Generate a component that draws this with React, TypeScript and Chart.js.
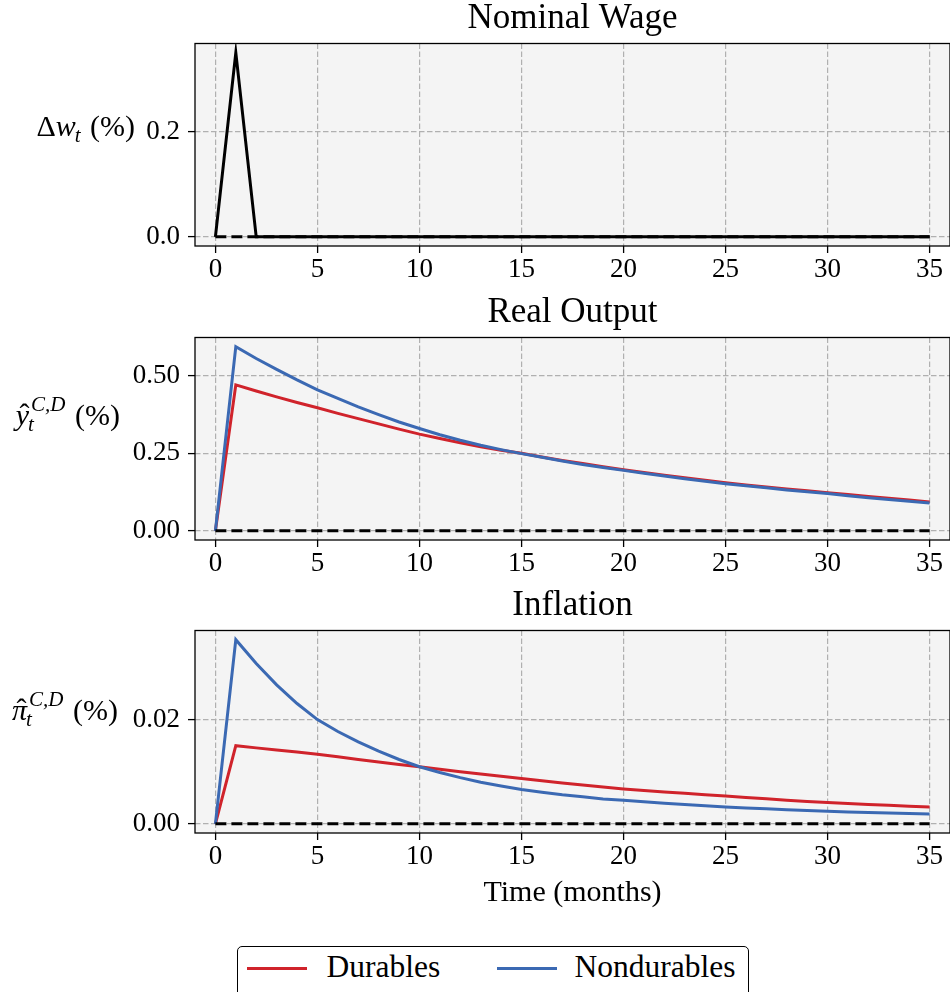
import React, { useEffect, useRef } from "react";
import { Chart, registerables } from "chart.js";

Chart.register(...registerables);

// ---------------- data ----------------
const MONTHS = [0, 1, 2, 3, 4, 5, 6, 7, 8, 9, 10, 11, 12, 13, 14, 15, 16, 17, 18, 19, 20, 21, 22, 23, 24, 25, 26, 27, 28, 29, 30, 31, 32, 33, 34, 35];

const WAGE = [0, 0.35, 0, 0, 0, 0, 0, 0, 0, 0, 0, 0, 0, 0, 0, 0, 0, 0, 0, 0, 0, 0, 0, 0, 0, 0, 0, 0, 0, 0, 0, 0, 0, 0, 0, 0];

const ZERO = [0, 0, 0, 0, 0, 0, 0, 0, 0, 0, 0, 0, 0, 0, 0, 0, 0, 0, 0, 0, 0, 0, 0, 0, 0, 0, 0, 0, 0, 0, 0, 0, 0, 0, 0, 0];

const OUTPUT_DURABLES = [0, 0.471, 0.451, 0.432, 0.414, 0.397, 0.379, 0.362, 0.345, 0.328, 0.312, 0.298, 0.284, 0.271, 0.26, 0.25, 0.238, 0.227, 0.217, 0.207, 0.197, 0.188, 0.179, 0.171, 0.163, 0.155, 0.148, 0.141, 0.135, 0.129, 0.123, 0.117, 0.111, 0.105, 0.099, 0.093];

const OUTPUT_NONDURABLES = [0, 0.594, 0.556, 0.521, 0.487, 0.455, 0.427, 0.4, 0.375, 0.351, 0.33, 0.31, 0.292, 0.276, 0.262, 0.249, 0.237, 0.225, 0.214, 0.204, 0.195, 0.186, 0.177, 0.168, 0.16, 0.152, 0.145, 0.139, 0.132, 0.126, 0.12, 0.113, 0.107, 0.101, 0.095, 0.09];

const INFL_DURABLES = [0, 0.01506, 0.01464, 0.01423, 0.01383, 0.01343, 0.01291, 0.0124, 0.01192, 0.01145, 0.011, 0.01051, 0.01004, 0.00959, 0.00915, 0.00873, 0.00829, 0.00787, 0.00747, 0.00709, 0.00672, 0.00643, 0.00614, 0.00587, 0.00561, 0.00537, 0.00508, 0.00481, 0.00456, 0.00432, 0.0041, 0.00391, 0.00373, 0.00356, 0.0034, 0.00325];

const INFL_NONDURABLES = [0, 0.0355, 0.0309, 0.0268, 0.0232, 0.0201, 0.0178, 0.0158, 0.014, 0.0124, 0.011, 0.0099, 0.0089, 0.008, 0.0073, 0.0066, 0.0061, 0.0056, 0.0052, 0.0048, 0.00454, 0.00424, 0.00397, 0.00371, 0.00347, 0.00325, 0.00306, 0.00289, 0.00271, 0.00255, 0.0024, 0.00229, 0.00218, 0.00208, 0.00199, 0.0019];

const X_TICKS = [0, 5, 10, 15, 20, 25, 30, 35];
const X_TICK_LABELS = ["0", "5", "10", "15", "20", "25", "30", "35"];

const WAGE_Y_TICKS = [0, 0.2];
const WAGE_Y_TICK_LABELS = ["0.0", "0.2"];
const OUTPUT_Y_TICKS = [0, 0.25, 0.5];
const OUTPUT_Y_TICK_LABELS = ["0.00", "0.25", "0.50"];
const INFL_Y_TICKS = [0, 0.02];
const INFL_Y_TICK_LABELS = ["0.00", "0.02"];

const SERIES_NAMES = ["Durables", "Nondurables"];

// ---------------- style ----------------
const FAM = "'Liberation Serif', 'Times New Roman', serif";
const RED = "#d0232b";
const BLUE = "#3b69b3";
const LINE_W = 3;

type LabelPart = { text: string; italic?: boolean; hat?: boolean; sub?: string; sup?: string };

type PanelCfg = {
  top: number;
  height: number;
  title: string;
  series: { label: string; data: number[]; color: string; width: number; dash?: number[]; order: number }[];
  yMin: number;
  yMax: number;
  yTicks: number[];
  yTickLabels: string[];
  yLabel: LabelPart[];
  yLabelRight: number;
  yLabelBaseline: number;
  xAxisHeight: number;
  xTitle?: string;
};

function drawYLabel(ctx: CanvasRenderingContext2D, parts: LabelPart[], right: number, baseline: number) {
  const F = 30;
  const S = 21;
  const reg = `${F}px ${FAM}`;
  const ita = `italic ${F}px ${FAM}`;
  const sIta = `italic ${S}px ${FAM}`;
  const widths = parts.map((p) => {
    ctx.font = p.italic ? ita : reg;
    const w = ctx.measureText(p.text).width;
    ctx.font = sIta;
    const subW = p.sub ? ctx.measureText(p.sub).width : 0;
    const supW = p.sup ? ctx.measureText(p.sup).width + 3 : 0;
    const ws = Math.max(subW, supW);
    return { w, ws: ws ? ws + 1 : 0 };
  });
  const total = widths.reduce((a, b) => a + b.w + b.ws, 0);
  let x = right - total;
  ctx.save();
  ctx.fillStyle = "#000";
  ctx.textBaseline = "alphabetic";
  ctx.textAlign = "left";
  parts.forEach((p, i) => {
    ctx.font = p.italic ? ita : reg;
    ctx.fillText(p.text, x, baseline);
    if (p.hat) {
      ctx.font = reg;
      const hw = ctx.measureText("\u02C6").width;
      ctx.fillText("\u02C6", x + widths[i].w / 2 - hw / 2 + 2, baseline - 1);
    }
    ctx.font = sIta;
    if (p.sub) ctx.fillText(p.sub, x + widths[i].w - 1, baseline + 6);
    if (p.sup) ctx.fillText(p.sup, x + widths[i].w + 2, baseline - 14);
    x += widths[i].w + widths[i].ws;
  });
  ctx.restore();
}

const PANELS: PanelCfg[] = [
  {
    top: 0,
    height: 294,
    title: "Nominal Wage",
    series: [
      { label: "zero", data: ZERO, color: "#000", width: LINE_W, dash: [11, 5], order: 0 },
      { label: "Nominal Wage", data: WAGE, color: "#000", width: LINE_W, order: 1 },
    ],
    yMin: -0.0175,
    yMax: 0.3675,
    yTicks: WAGE_Y_TICKS,
    yTickLabels: WAGE_Y_TICK_LABELS,
    yLabel: [{ text: "\u0394" }, { text: "w", italic: true, sub: "t" }, { text: " (%)" }],
    yLabelRight: 135,
    yLabelBaseline: 136,
    xAxisHeight: 48,
  },
  {
    top: 294,
    height: 293,
    title: "Real Output",
    series: [
      { label: "zero", data: ZERO, color: "#000", width: LINE_W, dash: [11, 5], order: 0 },
      { label: SERIES_NAMES[1], data: OUTPUT_NONDURABLES, color: BLUE, width: LINE_W, order: 1 },
      { label: SERIES_NAMES[0], data: OUTPUT_DURABLES, color: RED, width: LINE_W, order: 2 },
    ],
    yMin: -0.0297,
    yMax: 0.6237,
    yTicks: OUTPUT_Y_TICKS,
    yTickLabels: OUTPUT_Y_TICK_LABELS,
    yLabel: [{ text: "y", italic: true, hat: true, sub: "t", sup: "C,D" }, { text: " (%)" }],
    yLabelRight: 120,
    yLabelBaseline: 131,
    xAxisHeight: 47,
  },
  {
    top: 587,
    height: 358,
    title: "Inflation",
    series: [
      { label: "zero", data: ZERO, color: "#000", width: LINE_W, dash: [11, 5], order: 0 },
      { label: SERIES_NAMES[1], data: INFL_NONDURABLES, color: BLUE, width: LINE_W, order: 1 },
      { label: SERIES_NAMES[0], data: INFL_DURABLES, color: RED, width: LINE_W, order: 2 },
    ],
    yMin: -0.001775,
    yMax: 0.037275,
    yTicks: INFL_Y_TICKS,
    yTickLabels: INFL_Y_TICK_LABELS,
    yLabel: [{ text: "\u03C0", italic: true, hat: true, sub: "t", sup: "C,D" }, { text: " (%)" }],
    yLabelRight: 118,
    yLabelBaseline: 133,
    xAxisHeight: 112,
    xTitle: "Time (months)",
  },
];

function Panel({ cfg }: { cfg: PanelCfg }) {
  const ref = useRef<HTMLCanvasElement>(null);
  useEffect(() => {
    const canvas = ref.current;
    if (!canvas) return;
    const decor = {
      id: "panelDecor",
      beforeDraw(chart: any) {
        const { ctx, chartArea: a } = chart;
        ctx.save();
        ctx.fillStyle = "#f4f4f4";
        ctx.fillRect(a.left, a.top, a.right - a.left, a.bottom - a.top);
        ctx.restore();
      },
      afterDatasetsDraw(chart: any) {
        const { ctx, chartArea: a } = chart;
        ctx.save();
        ctx.strokeStyle = "#000";
        ctx.lineWidth = 1.3;
        ctx.strokeRect(a.left, a.top, a.right - a.left, a.bottom - a.top);
        ctx.restore();
      },
      afterDraw(chart: any) {
        drawYLabel(chart.ctx, cfg.yLabel, cfg.yLabelRight, cfg.yLabelBaseline);
      },
    };
    const chart = new Chart(canvas, {
      type: "line",
      data: {
        datasets: cfg.series.map((s) => ({
          label: s.label,
          data: s.data.map((v, i) => ({ x: MONTHS[i], y: v })),
          borderColor: s.color,
          backgroundColor: s.color,
          borderWidth: s.width,
          borderDash: s.dash || [],
          pointRadius: 0,
          tension: 0,
          fill: false,
          order: s.order,
          borderCapStyle: "butt",
          borderJoinStyle: "miter",
        })),
      },
      options: {
        responsive: false,
        animation: false,
        events: [],
        layout: { padding: { top: 0, left: 0, right: 0, bottom: 0 } },
        plugins: {
          legend: { display: false },
          tooltip: { enabled: false },
          title: {
            display: true,
            text: cfg.title,
            color: "#000",
            fullSize: false,
            font: { family: FAM, size: 35, weight: "normal", lineHeight: 1.1 },
            padding: { top: 0, bottom: 5 },
          },
        },
        scales: {
          x: {
            type: "linear",
            min: -1,
            max: 36,
            afterBuildTicks: (scale: any) => {
              scale.ticks = X_TICKS.map((v) => ({ value: v }));
            },
            afterFit: (scale: any) => {
              scale.height = cfg.xAxisHeight;
            },
            ticks: {
              callback: (_v: any, i: number) => X_TICK_LABELS[i],
              color: "#000",
              font: { family: FAM, size: 27 },
              padding: 1,
              maxRotation: 0,
              autoSkip: false,
            },
            grid: {
              color: "#b0b0b0",
              lineWidth: 1.2,
              tickColor: "#000",
              tickWidth: 1.3,
              tickLength: 7,
              tickBorderDash: [],
            },
            border: { display: false, dash: [5.5, 2.5] },
            title: cfg.xTitle
              ? {
                  display: true,
                  text: cfg.xTitle,
                  color: "#000",
                  font: { family: FAM, size: 30, lineHeight: 1.2 },
                  padding: { top: 0, bottom: 34 },
                }
              : { display: false },
          },
          y: {
            type: "linear",
            min: cfg.yMin,
            max: cfg.yMax,
            afterBuildTicks: (scale: any) => {
              scale.ticks = cfg.yTicks.map((v) => ({ value: v }));
            },
            afterFit: (scale: any) => {
              scale.width = 195;
            },
            ticks: {
              callback: (_v: any, i: number) => cfg.yTickLabels[i],
              color: "#000",
              font: { family: FAM, size: 27 },
              padding: 8,
            },
            grid: {
              color: "#b0b0b0",
              lineWidth: 1.2,
              tickColor: "#000",
              tickWidth: 1.3,
              tickLength: 7,
              tickBorderDash: [],
            },
            border: { display: false, dash: [5.5, 2.5] },
          },
        },
      } as any,
      plugins: [decor],
    });
    return () => chart.destroy();
  }, [cfg]);
  return (
    <canvas
      ref={ref}
      width={950}
      height={cfg.height}
      style={{ position: "absolute", left: 0, top: cfg.top, width: 950, height: cfg.height, display: "block" }}
    />
  );
}

function Legend() {
  const text: React.CSSProperties = {
    position: "absolute",
    fontFamily: FAM,
    fontSize: 31.5,
    lineHeight: "30px",
    color: "#000",
    whiteSpace: "nowrap",
    top: 5,
  };
  const line: React.CSSProperties = { position: "absolute", height: 3, top: 19.5 };
  return (
    <div
      style={{
        position: "absolute",
        left: 237,
        top: 946,
        width: 510,
        height: 70,
        border: "1.5px solid #000",
        borderRadius: 5,
        background: "#fff",
      }}
    >
      <div style={{ ...line, left: 8.5, width: 60, background: RED }} />
      <span style={{ ...text, left: 88.5 }}>{SERIES_NAMES[0]}</span>
      <div style={{ ...line, left: 258.5, width: 60, background: BLUE }} />
      <span style={{ ...text, left: 336.5 }}>{SERIES_NAMES[1]}</span>
    </div>
  );
}

export default function App() {
  return (
    <div style={{ position: "absolute", left: 0, top: 0, width: 950, height: 992, overflow: "hidden", background: "#fff" }}>
      {PANELS.map((p, i) => (
        <Panel key={i} cfg={p} />
      ))}
      <Legend />
    </div>
  );
}
